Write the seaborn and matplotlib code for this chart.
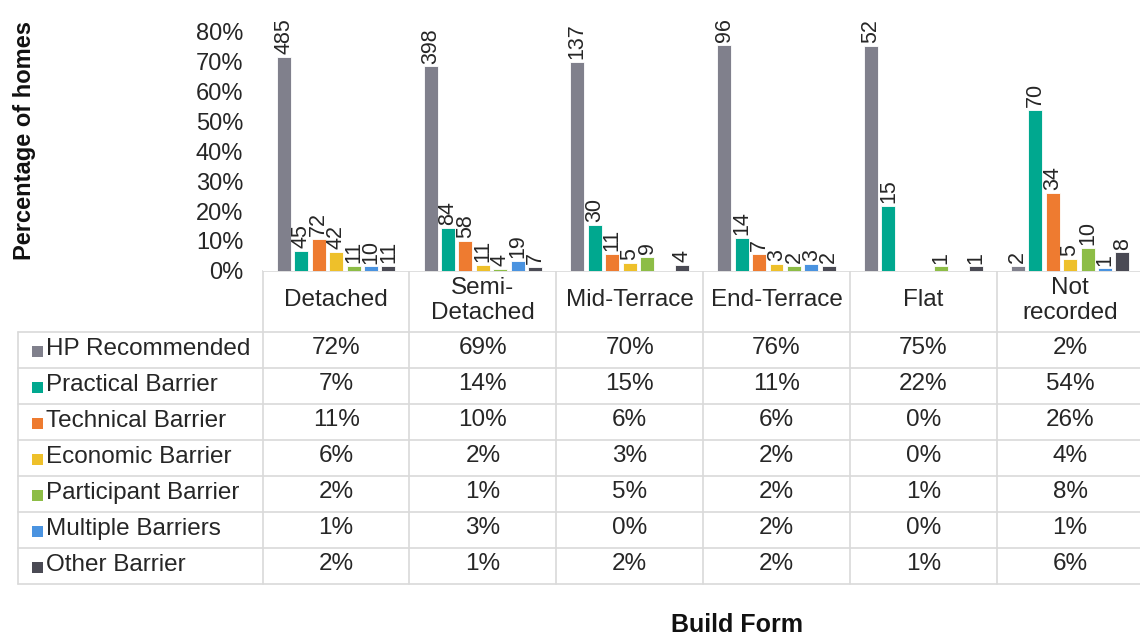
import numpy as np
import pandas as pd
import matplotlib
matplotlib.use("Agg")
import matplotlib.pyplot as plt
from matplotlib.patches import Rectangle
import seaborn as sns

# ---- data -------------------------------------------------------------
build_forms = ["Detached", "Semi-\nDetached", "Mid-Terrace", "End-Terrace", "Flat", "Not\nrecorded"]
outcomes = ["HP Recommended", "Practical Barrier", "Technical Barrier", "Economic Barrier",
            "Participant Barrier", "Multiple Barriers", "Other Barrier"]

# number of homes per outcome (same order as `outcomes`) for each build form
detached = [485, 45, 72, 42, 11, 10, 11]
semi_detached = [398, 84, 58, 11, 4, 19, 7]
mid_terrace = [137, 30, 11, 5, 9, 0, 4]
end_terrace = [96, 14, 7, 3, 2, 3, 2]
flat = [52, 15, 0, 0, 1, 0, 1]
not_recorded = [2, 70, 34, 5, 10, 1, 8]

counts_by_form = [detached, semi_detached, mid_terrace, end_terrace, flat, not_recorded]

outcome_colors = ["#80808C", "#00A88F", "#EE7B30", "#EEC02A", "#8DBD46", "#4A93E0", "#4A4A54"]
y_ticks = [0.0, 0.1, 0.2, 0.3, 0.4, 0.5, 0.6, 0.7, 0.8]

# long table: share of homes within each build form
rows = []
for form, counts in zip(build_forms, counts_by_form):
    total = sum(counts)
    for outcome, n in zip(outcomes, counts):
        rows.append({"form": form, "outcome": outcome, "count": n, "pct": n / total})
df = pd.DataFrame(rows)

# ---- style ------------------------------------------------------------
sns.set_theme(style="white")
plt.rcParams["font.family"] = ["Liberation Sans", "DejaVu Sans"]
text_color = "#262626"
grid_color = "#D9D9D9"
table_fs = 17.5

W, H = 1140, 638
fig = plt.figure(figsize=(W / 100, H / 100), dpi=100)

# chart area in pixel terms (left, top, right, bottom)
plot_left, plot_right = 262.7, 1143.5
plot_top, plot_bottom = 32.0, 270.7
ax = fig.add_axes([plot_left / W, 1 - plot_bottom / H,
                   (plot_right - plot_left) / W, (plot_bottom - plot_top) / H])

sns.barplot(data=df, x="form", y="pct", hue="outcome", order=build_forms,
            hue_order=outcomes, palette=outcome_colors, saturation=1,
            width=0.832, gap=0.2, edgecolor="white", linewidth=0.6,
            legend=False, ax=ax, errorbar=None)

# count labels above each bar
for j, container in enumerate(ax.containers):
    labels = [str(counts_by_form[i][j]) if counts_by_form[i][j] else "" for i in range(len(build_forms))]
    ax.bar_label(container, labels=labels, padding=2, rotation=90,
                 fontsize=15.5, color=text_color)

ax.set_xlim(-0.5, len(build_forms) - 0.5)
ax.set_ylim(0, 0.8)
ax.set_yticks(y_ticks)
ax.set_yticklabels([f"{t:.0%}" for t in y_ticks], fontsize=17, color=text_color)
ax.set_xticks([])
ax.set_xlabel("")
ax.set_ylabel("")
ax.tick_params(axis="y", length=0, pad=14)
for s in ax.spines.values():
    s.set_visible(False)

# ---- data table beneath the bars ---------------------------------------
tab = fig.add_axes([0, 0, 1, 1], zorder=-1)
tab.set_xlim(0, W)
tab.set_ylim(H, 0)
tab.axis("off")

def to_px(x):
    return ax.transData.transform((x, 0))[0]

col_edges = [to_px(i - 0.5) for i in range(len(build_forms) + 1)]
col_centers = [to_px(i) for i in range(len(build_forms))]

table_left = 18.0
header_bottom = 332.0
row_h = 36.0
row_lines = [header_bottom + k * row_h for k in range(len(outcomes) + 1)]
table_bottom = row_lines[-1]

tab.plot([col_edges[0], col_edges[-1]], [plot_bottom, plot_bottom], color=grid_color, lw=1.2)
for y in row_lines:
    tab.plot([table_left, col_edges[-1]], [y, y], color=grid_color, lw=1.2)
tab.plot([table_left, table_left], [header_bottom, table_bottom], color=grid_color, lw=1.2)
for x in col_edges:
    tab.plot([x, x], [plot_bottom, table_bottom], color=grid_color, lw=1.2)

# header: build form names
for x, form in zip(col_centers, build_forms):
    tab.text(x, (plot_bottom + header_bottom) / 2 - 1, form, ha="center", va="center",
             fontsize=table_fs, color=text_color, linespacing=1.2)

# rows: legend key + shares
for k, (outcome, color) in enumerate(zip(outcomes, outcome_colors)):
    yc = header_bottom + k * row_h + row_h / 2
    tab.add_patch(Rectangle((32, yc - 4.5), 11, 11, facecolor=color, edgecolor="none"))
    tab.text(46, yc - 1, outcome, ha="left", va="center", fontsize=table_fs, color=text_color)
    for i, x in enumerate(col_centers):
        share = df[(df["form"] == build_forms[i]) & (df["outcome"] == outcome)]["pct"].iloc[0]
        tab.text(x, yc - 1.5, f"{share:.0%}", ha="center", va="center",
                 fontsize=table_fs, color=text_color)

# axis titles
fig.text(25 / W, 1 - 140 / H, "Percentage of homes", rotation=90, ha="center", va="center",
         fontsize=17, fontweight="bold", color="#111111")
fig.text(737 / W, 1 - 625 / H, "Build Form", ha="center", va="center",
         fontsize=18, fontweight="bold", color="#111111")

fig.savefig("out.png", dpi=100)
